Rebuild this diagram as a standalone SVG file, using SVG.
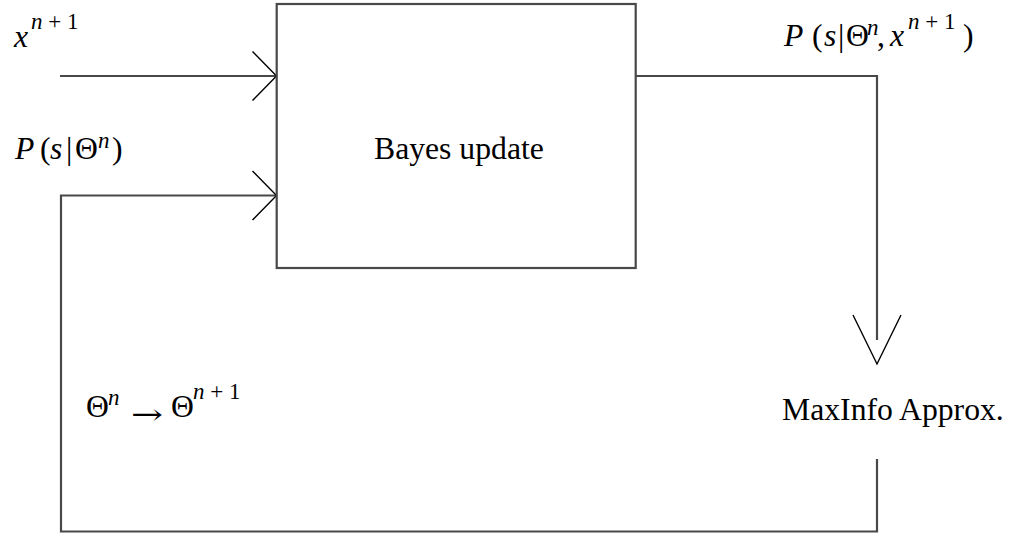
<svg xmlns="http://www.w3.org/2000/svg" width="1011" height="533" viewBox="0 0 1011 533">
<style>
.ln{fill:none;stroke:#484848;stroke-width:2.2}
.ah{fill:none;stroke:#000;stroke-width:1.4}
.t{font-family:"Liberation Serif","Times New Roman",serif;font-size:31.7px;fill:#000}
.i{font-style:italic}
.sup{font-size:23px}
.arr{font-family:"DejaVu Serif",serif;font-size:28px;fill:#000}
</style>
<rect width="1011" height="533" fill="#fff"/>
<g id="connectors">
<path class="ln" d="M60,76 H276"/>
<path class="ah" d="M252.5,51.5 L276.5,76 L252.5,100.5"/>
<path class="ln" d="M877,459 V531.5 H61 V195.5 H276"/>
<path class="ah" d="M252.5,171 L276.5,195.5 L252.5,220"/>
<path class="ln" d="M636,76 H877 V340"/>
<path class="ah" d="M853,315 L877,364 L901,315"/>
</g>
<g id="bayes">
<rect class="ln" x="276.7" y="4" width="359" height="264"/>
<text class="t" x="374" y="159">Bayes update</text>
</g>
<g id="maxinfo">
<text class="t" x="782" y="420">MaxInfo Approx.</text>
</g>
<g id="label-x">
<text class="t"><tspan class="i" x="14" y="46.7">x</tspan><tspan class="sup i" x="31" y="29">n</tspan><tspan class="sup"> + 1</tspan></text>
</g>
<g id="label-prior">
<text class="t"><tspan class="i" x="15" y="159">P</tspan><tspan x="40">(</tspan><tspan class="i" x="50">s</tspan><tspan x="66">|</tspan><tspan x="75">Θ</tspan><tspan class="sup i" x="98" y="148">n</tspan><tspan x="112" y="159">)</tspan></text>
</g>
<g id="label-posterior">
<text class="t"><tspan class="i" x="784" y="46">P</tspan><tspan x="812">(</tspan><tspan class="i" x="824">s</tspan><tspan x="838">|</tspan><tspan x="846">Θ</tspan><tspan class="sup i" x="867" y="35">n</tspan><tspan x="877" y="46">,</tspan><tspan class="i" x="890">x</tspan><tspan class="sup i" x="908" y="29">n</tspan><tspan class="sup"> + 1</tspan><tspan x="963" y="46">)</tspan></text>
</g>
<g id="label-theta">
<text class="t"><tspan x="86" y="416.7">Θ</tspan><tspan class="sup i" x="108" y="405">n</tspan><tspan x="171" y="416.7">Θ</tspan><tspan class="sup i" x="193" y="399">n</tspan><tspan class="sup"> + 1</tspan></text>
<text class="arr" transform="translate(131,424) scale(1.37,1)">→</text>
</g>
</svg>
